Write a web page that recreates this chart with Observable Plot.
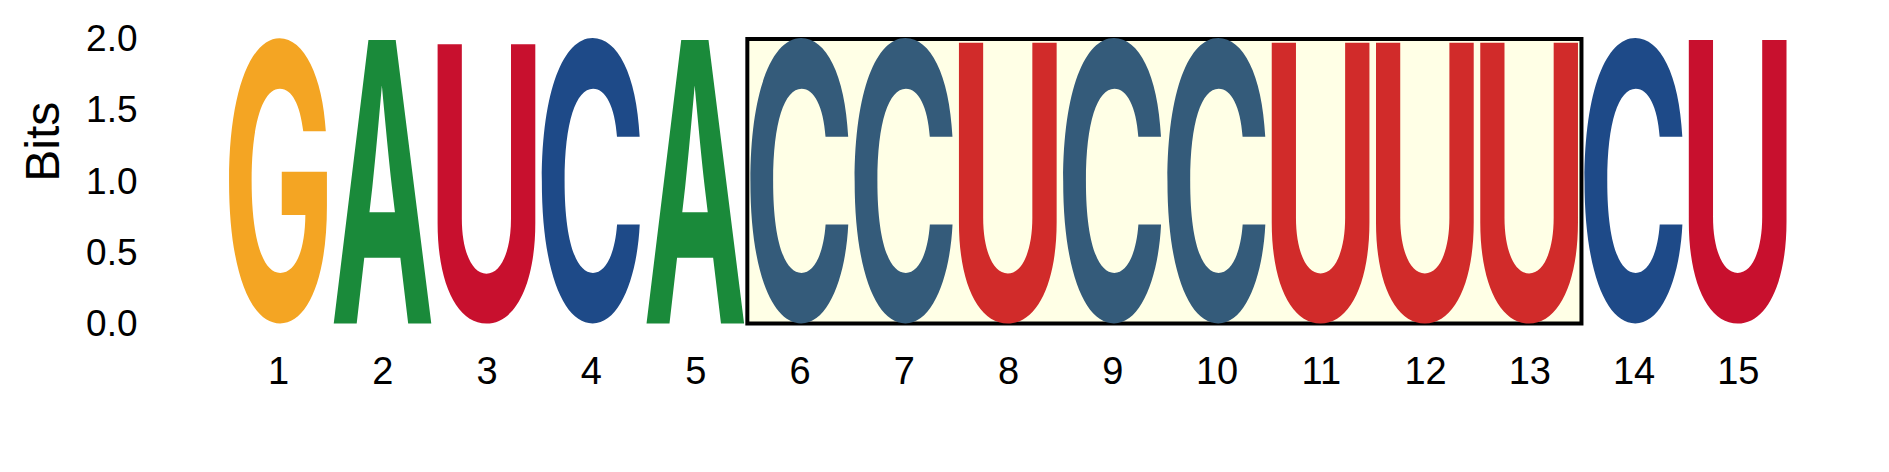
<!DOCTYPE html>
<html>
<head>
<meta charset="utf-8">
<script src="https://cdn.jsdelivr.net/npm/d3@7"></script>
<script src="https://cdn.jsdelivr.net/npm/@observablehq/plot@0.6"></script>
<style>
  body { margin: 0; background: #fff; }
</style>
</head>
<body>
<div id="chart"></div>
<script>
// ---- data ----
const positions = [1, 2, 3, 4, 5, 6, 7, 8, 9, 10, 11, 12, 13, 14, 15];
const letters   = ["G", "A", "U", "C", "A", "C", "C", "U", "C", "C", "U", "U", "U", "C", "U"];
const bits      = [2.0, 2.0, 1.97, 2.0, 2.0, 2.0, 2.0, 1.98, 2.0, 2.0, 1.98, 1.98, 1.98, 2.0, 2.0];
const yTicks    = [0, 0.5, 1.0, 1.5, 2.0];
const highlight = [5.5, 13.5];   // boxed region (positions 6–13)
const yLabel    = "Bits";

// ---- styles ----
const letterColors = { G: "#F4A523", A: "#1A8A3A", U: "#C8102E", C: "#1E4A88" };
const boxLetterColors = { G: "#F4A523", A: "#1A8A3A", U: "#D12B2A", C: "#345B7A" };
const gap = 0.028;
const FONT_FAMILY = "'Liberation Sans', Arial, Helvetica, sans-serif";
const GLYPH_FONT = "Inter, 'Liberation Sans', Arial, sans-serif";
const GLYPH_WEIGHT = 700;
const FONT_SIZE = 200;

const data = positions.map((p, i) => ({
  pos: p, letter: letters[i], bits: bits[i],
  inBox: p > highlight[0] && p < highlight[1]
}));

// ink-box measurement of glyphs
const ctx = document.createElement("canvas").getContext("2d");
ctx.font = `${GLYPH_WEIGHT} ${FONT_SIZE}px ${GLYPH_FONT}`;
ctx.textAlign = "left";
ctx.textBaseline = "alphabetic";
const inkCache = {};
function ink(ch) {
  if (!inkCache[ch]) {
    const m = ctx.measureText(ch);
    inkCache[ch] = {
      l: m.actualBoundingBoxLeft, r: m.actualBoundingBoxRight,
      a: m.actualBoundingBoxAscent, d: m.actualBoundingBoxDescent
    };
  }
  return inkCache[ch];
}

const glyphs = Plot.rect(data, {
  x1: d => d.pos - 0.5 + gap,
  x2: d => d.pos + 0.5 - gap,
  y1: 0,
  y2: "bits",
  render(index, scales, values) {
    const g = d3.create("svg:g");
    for (const i of index) {
      const d = data[i];
      const X1 = Math.min(values.x1[i], values.x2[i]);
      const X2 = Math.max(values.x1[i], values.x2[i]);
      const Ytop = Math.min(values.y1[i], values.y2[i]);
      const Ybot = Math.max(values.y1[i], values.y2[i]);
      const m = ink(d.letter);
      const sx = (X2 - X1) / (m.l + m.r);
      const sy = (Ybot - Ytop) / (m.a + m.d);
      const tx = X1 + m.l * sx;
      const ty = Ytop + m.a * sy;
      g.append("text")
        .attr("x", 0).attr("y", 0)
        .attr("text-anchor", "start")
        .attr("dominant-baseline", "alphabetic")
        .attr("font-family", GLYPH_FONT)
        .attr("font-weight", GLYPH_WEIGHT)
        .attr("font-size", FONT_SIZE)
        .attr("fill", d.inBox ? boxLetterColors[d.letter] : letterColors[d.letter])
        .attr("transform", `translate(${tx},${ty}) scale(${sx},${sy})`)
        .text(d.letter);
    }
    return g.node();
  }
});

const chart = Plot.plot({
  width: 1889,
  height: 472,
  marginLeft: 226,
  marginRight: 99,
  marginTop: 39,
  marginBottom: 148.5,
  style: { fontFamily: FONT_FAMILY, color: "black", background: "white" },
  x: { type: "linear", domain: [0.5, 15.5] },
  y: { domain: [0, 2] },
  marks: [
    Plot.rect([highlight], {
      x1: d => d[0], x2: d => d[1], y1: 0, y2: 2,
      fill: "#FFFFE6", stroke: "black", strokeWidth: 4
    }),
    glyphs,
    Plot.axisX({
      ticks: positions, tickSize: 0, tickPadding: 33.5,
      tickFormat: d => String(d), fontSize: 38, label: null
    }),
    Plot.axisY({
      ticks: yTicks, tickSize: 0, tickPadding: 89,
      tickFormat: d3.format(".1f"), fontSize: 37, label: null
    }),
    Plot.text([yLabel], {
      text: d => d, frameAnchor: "left", dx: -183, rotate: -90,
      fontSize: 48, fill: "black"
    })
  ]
});

document.getElementById("chart").appendChild(chart);
</script>
</body>
</html>
